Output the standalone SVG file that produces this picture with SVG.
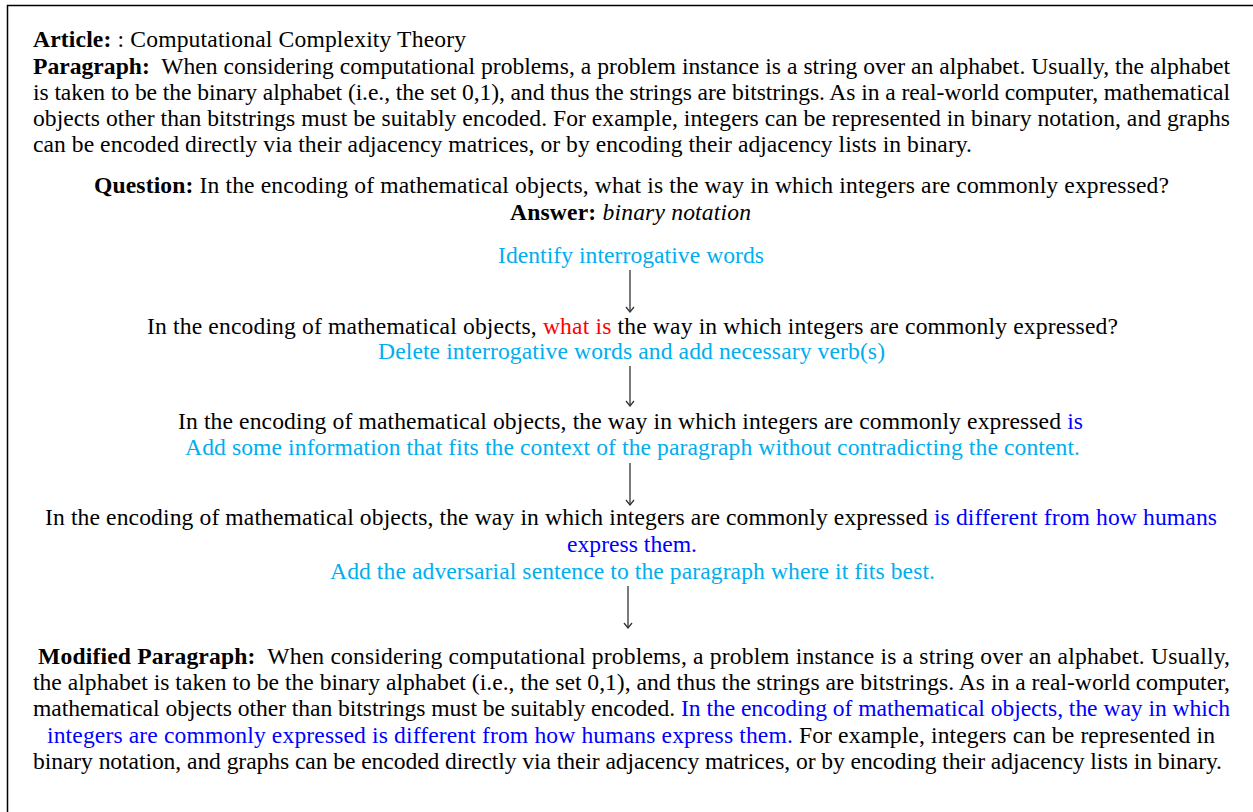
<svg xmlns="http://www.w3.org/2000/svg" width="1253" height="812" viewBox="0 0 1253 812">
<defs>
<style>
text{font-family:"Liberation Serif","Times New Roman",serif;font-size:23.6px;fill:#000}
.b{font-weight:bold}
.i{font-style:italic}
.c{fill:#00aeef}
.r{fill:#ff0000}
.u{fill:#0000ff}
.conn line{stroke:#333;stroke-width:1.3}
</style>
<marker id="ah" viewBox="0 0 7 10" refX="6" refY="5" markerWidth="7" markerHeight="10" markerUnits="userSpaceOnUse" orient="auto">
<path d="M1,1 L6,5 L1,9" fill="none" stroke="#333" stroke-width="1.3"/>
</marker>
</defs>
<rect width="1253" height="812" fill="#fff"/>
<path d="M7.5,812 V5.5 H1253" fill="none" stroke="#000" stroke-width="1.5"/>

<g id="article">
<text x="33" y="47" textLength="433" lengthAdjust="spacing"><tspan class="b">Article:</tspan> : Computational Complexity Theory</text>
</g>
<g id="paragraph">
<text x="33" y="74" textLength="1197" lengthAdjust="spacing"><tspan class="b">Paragraph:</tspan>&#160; When considering computational problems, a problem instance is a string over an alphabet. Usually, the alphabet</text>
<text x="33" y="100" textLength="1197" lengthAdjust="spacing">is taken to be the binary alphabet (i.e., the set 0,1), and thus the strings are bitstrings. As in a real-world computer, mathematical</text>
<text x="33" y="126" textLength="1197" lengthAdjust="spacing">objects other than bitstrings must be suitably encoded. For example, integers can be represented in binary notation, and graphs</text>
<text x="33" y="152" textLength="939" lengthAdjust="spacing">can be encoded directly via their adjacency matrices, or by encoding their adjacency lists in binary.</text>
</g>
<g id="question">
<text x="94" y="193" textLength="1075" lengthAdjust="spacing"><tspan class="b">Question:</tspan> In the encoding of mathematical objects, what is the way in which integers are commonly expressed?</text>
<text x="510" y="220" textLength="241" lengthAdjust="spacing"><tspan class="b">Answer:</tspan> <tspan class="i">binary notation</tspan></text>
</g>
<g id="step1">
<text class="c" x="498" y="263" textLength="266" lengthAdjust="spacing">Identify interrogative words</text>
</g>
<g id="q-marked">
<text x="147" y="334" textLength="971" lengthAdjust="spacing">In the encoding of mathematical objects, <tspan class="r">what is</tspan> the way in which integers are commonly expressed?</text>
</g>
<g id="step2">
<text class="c" x="378" y="359" textLength="507" lengthAdjust="spacing">Delete interrogative words and add necessary verb(s)</text>
</g>
<g id="statement">
<text x="178" y="429" textLength="905" lengthAdjust="spacing">In the encoding of mathematical objects, the way in which integers are commonly expressed <tspan class="u">is</tspan></text>
</g>
<g id="step3">
<text class="c" x="185" y="455" textLength="895" lengthAdjust="spacing">Add some information that fits the context of the paragraph without contradicting the content.</text>
</g>
<g id="adversarial">
<text x="45" y="525" textLength="1172" lengthAdjust="spacing">In the encoding of mathematical objects, the way in which integers are commonly expressed <tspan class="u">is different from how humans</tspan></text>
<text class="u" x="567" y="552" textLength="130" lengthAdjust="spacing">express them.</text>
</g>
<g id="step4">
<text class="c" x="330" y="579" textLength="605" lengthAdjust="spacing">Add the adversarial sentence to the paragraph where it fits best.</text>
</g>
<g id="modified">
<text x="38" y="664" textLength="1192" lengthAdjust="spacing"><tspan class="b">Modified Paragraph:</tspan>&#160; When considering computational problems, a problem instance is a string over an alphabet. Usually,</text>
<text x="33" y="690" textLength="1197" lengthAdjust="spacing">the alphabet is taken to be the binary alphabet (i.e., the set 0,1), and thus the strings are bitstrings. As in a real-world computer,</text>
<text x="33" y="716" textLength="1197" lengthAdjust="spacing">mathematical objects other than bitstrings must be suitably encoded. <tspan class="u">In the encoding of mathematical objects, the way in which</tspan></text>
<text x="47" y="743" textLength="1168" lengthAdjust="spacing"><tspan class="u">integers are commonly expressed is different from how humans express them.</tspan> For example, integers can be represented in</text>
<text x="33" y="769" textLength="1189" lengthAdjust="spacing">binary notation, and graphs can be encoded directly via their adjacency matrices, or by encoding their adjacency lists in binary.</text>
</g>

<g id="connectors" class="conn">
<line x1="630" y1="270" x2="630" y2="312" marker-end="url(#ah)"/>
<line x1="630" y1="366" x2="630" y2="406" marker-end="url(#ah)"/>
<line x1="630" y1="463" x2="630" y2="505" marker-end="url(#ah)"/>
<line x1="628" y1="586" x2="628" y2="628" marker-end="url(#ah)"/>
</g>
</svg>
